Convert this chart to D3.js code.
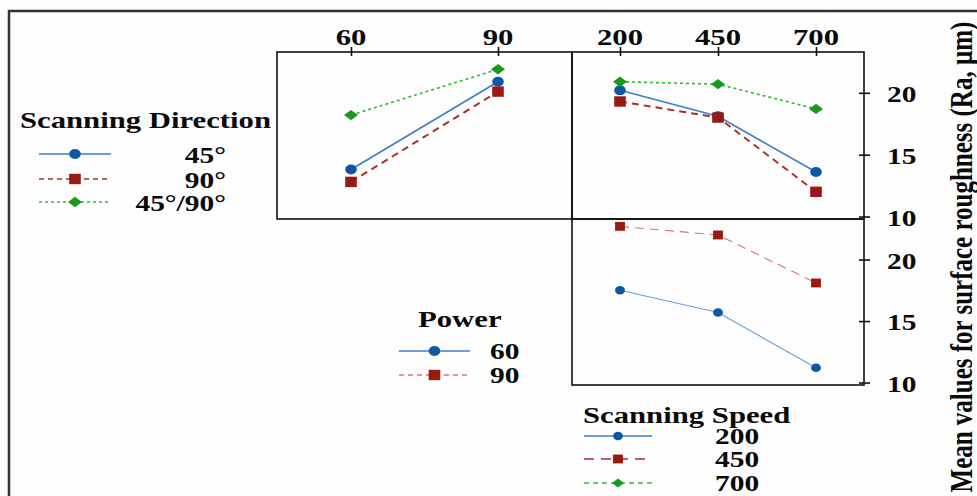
<!DOCTYPE html>
<html>
<head>
<meta charset="utf-8">
<script src="https://cdn.jsdelivr.net/npm/d3@7"></script>
<style>
  body { margin: 0; background: #fdfdfd; }
  svg { display: block; }
  text { font-family: "Liberation Serif", "Times New Roman", serif; font-weight: bold; fill: #0a0a0a; }
</style>
</head>
<body>
<svg id="chart" width="977" height="496"></svg>
<script>
// levels on the x axes
var powerLevels = [60, 90];
var speedLevels = [200, 450, 700];
var yTicks = [10, 15, 20];

// power main effect, one line per scanning direction
var power45 = [13.8, 20.9];
var power90 = [12.8, 20.1];
var power4590 = [18.2, 21.9];

// scanning speed, one line per scanning direction
var speed45 = [20.2, 18.1, 13.6];
var speed90 = [19.3, 18.0, 12.0];
var speed4590 = [20.9, 20.7, 18.7];

// scanning speed, one line per power
var speedP60 = [17.5, 15.7, 11.2];
var speedP90 = [22.7, 22.0, 18.1];

var dirLabels = ["45°", "90°", "45°/90°"];
var powerLabels = ["60", "90"];
var speedLabels = ["200", "450", "700"];

var SX = 1.28; // the picture is stretched sideways

var blue = { line: "#3f7dc4", fill: "#0f56a6", dash: null, shape: "circle" };
var red = { line: "#a83028", fill: "#981a12", dash: "7,5", shape: "square" };
var green = { line: "#2bbd2b", fill: "#169a1c", dash: "3,3", shape: "diamond" };

var svg = d3.select("#chart");

// outer frame (only top and left edges are visible)
svg.append("path")
  .attr("d", "M9,500V11H980")
  .attr("fill", "none")
  .attr("stroke", "#333")
  .attr("stroke-width", 2.5);

var yTop = d3.scaleLinear().domain([9.8, 23.3]).range([219, 52]);
var yBot = d3.scaleLinear().domain([9.8, 23.3]).range([385, 219]);
var xPower = d3.scalePoint().domain(powerLevels).range([351, 498]);
var xSpeed = d3.scalePoint().domain(speedLevels).range([620, 816]);

function stext(x, y, str, size, anchor) {
  return svg.append("text")
    .attr("transform", "translate(" + x + "," + y + ") scale(" + SX + ",1)")
    .attr("text-anchor", anchor || "start")
    .style("font-size", size + "px")
    .text(str);
}

function marker(g, x, y, style, k) {
  k = k || 1;
  if (style.shape == "circle") {
    g.append("ellipse").attr("cx", x).attr("cy", y)
      .attr("rx", 5.8 * k).attr("ry", 5 * k)
      .attr("fill", style.fill);
  } else if (style.shape == "square") {
    g.append("rect").attr("x", x - 5.8 * k).attr("y", y - 5.2 * k)
      .attr("width", 11.6 * k).attr("height", 10.4 * k)
      .attr("fill", style.fill);
  } else {
    var a = 7 * k, b = 5.2 * k;
    g.append("path")
      .attr("d", "M" + (x - a) + "," + y + "L" + x + "," + (y - b) + "L" + (x + a) + "," + y + "L" + x + "," + (y + b) + "Z")
      .attr("fill", style.fill);
  }
}

function series(levels, values, x, y, style, opts) {
  opts = opts || {};
  var g = svg.append("g");
  var pts = levels.map(function (d, i) { return [x(d), y(values[i])]; });
  g.append("path")
    .attr("d", d3.line()(pts))
    .attr("fill", "none")
    .attr("stroke", opts.lineColor || style.line)
    .attr("stroke-width", opts.width || 1.6)
    .attr("stroke-dasharray", opts.dash !== undefined ? opts.dash : style.dash);
  pts.forEach(function (p) { marker(g, p[0], p[1], style, opts.k); });
}

// panel frames
function box(x0, y0, x1, y1) {
  svg.append("rect")
    .attr("x", x0).attr("y", y0)
    .attr("width", x1 - x0).attr("height", y1 - y0)
    .attr("fill", "none")
    .attr("stroke", "#111")
    .attr("stroke-width", 1.6);
}
box(277, 52, 572, 219);
box(572, 52, 864, 219);
box(572, 219, 864, 385);

// top axes with ticks crossing the frame
function topAxis(scale, labels) {
  var g = svg.append("g").attr("transform", "translate(0,52)")
    .call(d3.axisTop(scale).tickSize(5).tickFormat(function (d, i) { return ""; }));
  g.select(".domain").remove();
  g.selectAll(".tick line").attr("y1", 4).attr("y2", -5).attr("stroke", "#111").attr("stroke-width", 1.6);
  scale.domain().forEach(function (d, i) {
    stext(scale(d), 45, labels[i], 24, "middle");
  });
}
topAxis(xPower, powerLabels);
topAxis(xSpeed, speedLabels);

// right axes
function rightAxis(scale) {
  var g = svg.append("g").attr("transform", "translate(864,0)")
    .call(d3.axisRight(scale).tickValues(yTicks).tickSize(6).tickFormat(""));
  g.select(".domain").remove();
  g.selectAll(".tick line").attr("x1", -5).attr("x2", 6).attr("stroke", "#111").attr("stroke-width", 1.6);
  yTicks.forEach(function (d) {
    stext(887, scale(d) + 9, String(d), 23, "start");
  });
}
rightAxis(yTop);
rightAxis(yBot);

// data lines
series(powerLevels, power45, xPower, yTop, blue);
series(powerLevels, power90, xPower, yTop, red, { width: 2 });
series(powerLevels, power4590, xPower, yTop, green);

series(speedLevels, speed45, xSpeed, yTop, blue);
series(speedLevels, speed90, xSpeed, yTop, red, { width: 2 });
series(speedLevels, speed4590, xSpeed, yTop, green);

series(speedLevels, speedP90, xSpeed, yBot, red, { width: 1.1, lineColor: "#d27a70", dash: "9,6", k: 0.85 });
series(speedLevels, speedP60, xSpeed, yBot, blue, { width: 1.1, lineColor: "#6b9fd8", k: 0.85 });

// legends
function legendRow(x0, x1, y, style, opts) {
  opts = opts || {};
  var g = svg.append("g");
  g.append("line")
    .attr("x1", x0).attr("x2", x1).attr("y1", y).attr("y2", y)
    .attr("stroke", opts.lineColor || style.line)
    .attr("stroke-width", 1.4)
    .attr("stroke-dasharray", opts.dash !== undefined ? opts.dash : style.dash);
  marker(g, (x0 + x1) / 2, y, style, opts.k);
}

stext(20, 128, "Scanning Direction", 24, "start");
var dirStyles = [blue, red, green];
var dirY = [154, 179, 202];
dirLabels.forEach(function (d, i) {
  legendRow(39, 111, dirY[i], dirStyles[i], { dash: i == 1 ? "5,4" : dirStyles[i].dash });
  stext(226, dirY[i] + 9, d, 23, "end");
});

stext(418, 327, "Power", 24, "start");
var powY = [351, 375];
var powStyles = [blue, red];
powerLabels.forEach(function (d, i) {
  legendRow(399, 470, powY[i], powStyles[i], { lineColor: i == 1 ? "#d27a70" : null, dash: i == 1 ? "5,4" : null });
  stext(490, powY[i] + 8, d, 23, "start");
});

stext(583, 423, "Scanning Speed", 24, "start");
var spdY = [436, 459, 483];
speedLabels.forEach(function (d, i) {
  legendRow(584, 652, spdY[i], dirStyles[i], { k: 0.85, dash: i == 1 ? "10,7" : (i == 2 ? "5,4" : null) });
  stext(715, spdY[i] + 8, d, 23, "start");
});

// y axis title
svg.append("text")
  .attr("transform", "translate(972,257) scale(" + SX + ",1) rotate(-90)")
  .attr("text-anchor", "middle")
  .style("font-size", "25px")
  .text("Mean values for surface roughness (Ra, µm)");
</script>
</body>
</html>
